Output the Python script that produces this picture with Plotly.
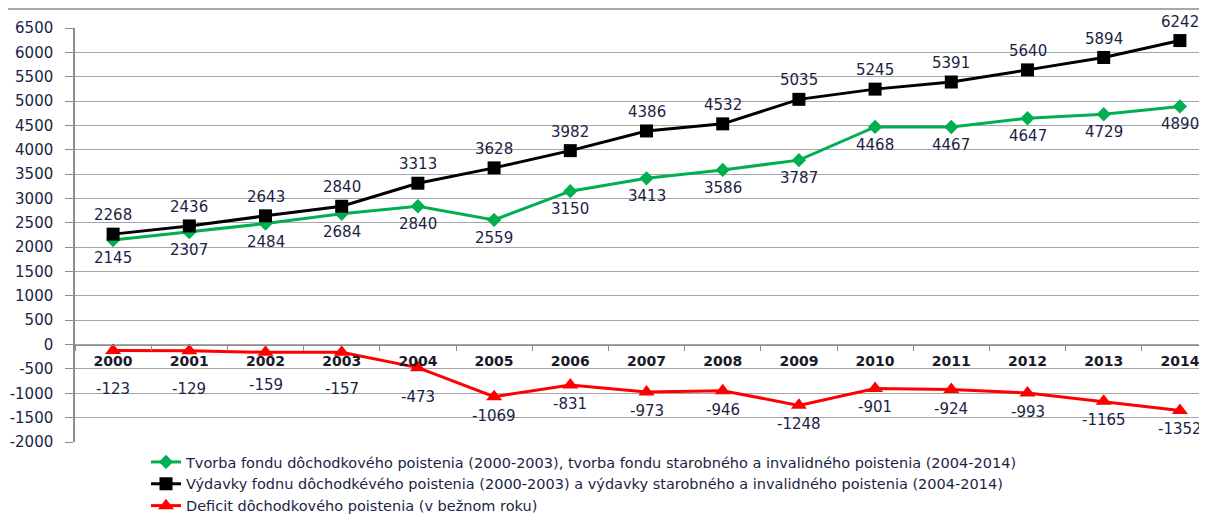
import plotly.graph_objects as go

years = ["2000", "2001", "2002", "2003", "2004", "2005", "2006", "2007",
         "2008", "2009", "2010", "2011", "2012", "2013", "2014"]
tvorba = [2145, 2307, 2484, 2684, 2840, 2559, 3150, 3413, 3586, 3787,
          4468, 4467, 4647, 4729, 4890]
vydavky = [2268, 2436, 2643, 2840, 3313, 3628, 3982, 4386, 4532, 5035,
           5245, 5391, 5640, 5894, 6242]
deficit = [-123, -129, -159, -157, -473, -1069, -831, -973, -946, -1248,
           -901, -924, -993, -1165, -1352]
y_tick_vals = [-2000, -1500, -1000, -500, 0, 500, 1000, 1500, 2000, 2500,
               3000, 3500, 4000, 4500, 5000, 5500, 6000, 6500]
y_tick_text = [str(v) for v in y_tick_vals]

names = [
    "Tvorba fondu dôchodkového poistenia (2000-2003), tvorba fondu starobného a invalidného poistenia (2004-2014)",
    "Výdavky fodnu dôchodkévého poistenia (2000-2003) a výdavky starobného a invalidného poistenia (2004-2014)",
    "Deficit dôchodkového poistenia (v bežnom roku)",
]

# label offsets (pixels) – style only
red_shift = [-37, -37, -32, -36, -28] + [-18] * 10

# page body has an 8px margin; work in screen pixels and convert
OFF = 8
W, H = 1207 - OFF, 516 - OFF
ML, MT = 75 - OFF, 28 - OFF
PLOT_BOTTOM = 442  # screen row of the y-axis minimum
TXT = "#1c1f45"
FONT = "DejaVu Sans"

plot_h = H - MT
plot_w = W - ML
def px_x(p):
    return (p - OFF - ML) / plot_w
def px_y(p):
    return (H - (p - OFF)) / plot_h

fig = go.Figure()
fig.add_trace(go.Scatter(x=years, y=tvorba, mode="lines+markers", name=names[0],
                         line=dict(color="#00B050", width=3),
                         marker=dict(symbol="diamond", size=11, color="#00B050")))
fig.add_trace(go.Scatter(x=years, y=vydavky, mode="lines+markers", name=names[1],
                         line=dict(color="#000000", width=3),
                         marker=dict(symbol="square", size=13, color="#000000")))
fig.add_trace(go.Scatter(x=years, y=deficit, mode="lines+markers", name=names[2],
                         line=dict(color="#FF0000", width=3),
                         marker=dict(symbol="triangle-up", size=14, color="#FF0000")))

ann = []
lab_font = dict(family=FONT, size=15, color=TXT)
for i, y in enumerate(years):
    ann.append(dict(x=i, y=tvorba[i], text=str(tvorba[i]), showarrow=False,
                    yshift=-18, font=lab_font, xref="x", yref="y"))
    ann.append(dict(x=i, y=vydavky[i], text=str(vydavky[i]), showarrow=False,
                    yshift=19, font=lab_font, xref="x", yref="y"))
    ann.append(dict(x=i, y=deficit[i], text=str(deficit[i]), showarrow=False,
                    yshift=red_shift[i] - 1, font=lab_font, xref="x", yref="y"))

shapes = [
    dict(type="line", xref="paper", yref="paper", x0=px_x(7), x1=px_x(1230),
         y0=px_y(9), y1=px_y(9), line=dict(color="#8c8c8c", width=1.5)),
    dict(type="line", xref="paper", yref="paper", x0=px_x(7), x1=px_x(7),
         y0=px_y(9), y1=px_y(540), line=dict(color="#8c8c8c", width=1.5)),
]

ymin, ymax = -2000, 6500
dom0 = px_y(PLOT_BOTTOM)
zero_pos = dom0 + (1 - dom0) * (0 - ymin) / (ymax - ymin)

fig.update_layout(
    width=W, height=H,
    margin=dict(l=ML, r=0, t=MT, b=0, autoexpand=False),
    paper_bgcolor="white", plot_bgcolor="white",
    font=dict(family=FONT, color=TXT),
    showlegend=True,
    legend=dict(x=px_x(146), y=px_y(446), xanchor="left", yanchor="top",
                orientation="v", font=dict(family=FONT, size=14.5, color=TXT),
                bgcolor="rgba(0,0,0,0)"),
    xaxis=dict(type="category", range=[-0.5, -0.5 + plot_w / 76.2],
               anchor="free", position=zero_pos,
               tickson="boundaries", ticks="outside", ticklen=5,
               tickcolor="#8c8c8c", showline=True, linecolor="#8c8c8c",
               linewidth=1, showgrid=False, zeroline=False,
               tickfont=dict(family=FONT, size=14, color="#1a1a2a", weight="bold"),
               ticklabelstandoff=4),
    yaxis=dict(range=[ymin, ymax], domain=[dom0, 1],
               tickmode="array", tickvals=y_tick_vals, ticktext=y_tick_text,
               ticks="outside", ticklen=8, tickcolor="#8c8c8c", showline=True,
               linecolor="#8c8c8c", linewidth=1.5, showgrid=True,
               gridcolor="#a6a6a6", gridwidth=1, zeroline=False,
               tickfont=dict(family=FONT, size=15, color=TXT),
               ticklabelstandoff=9),
    annotations=ann,
    shapes=shapes,
)

fig.write_html("out.html")
